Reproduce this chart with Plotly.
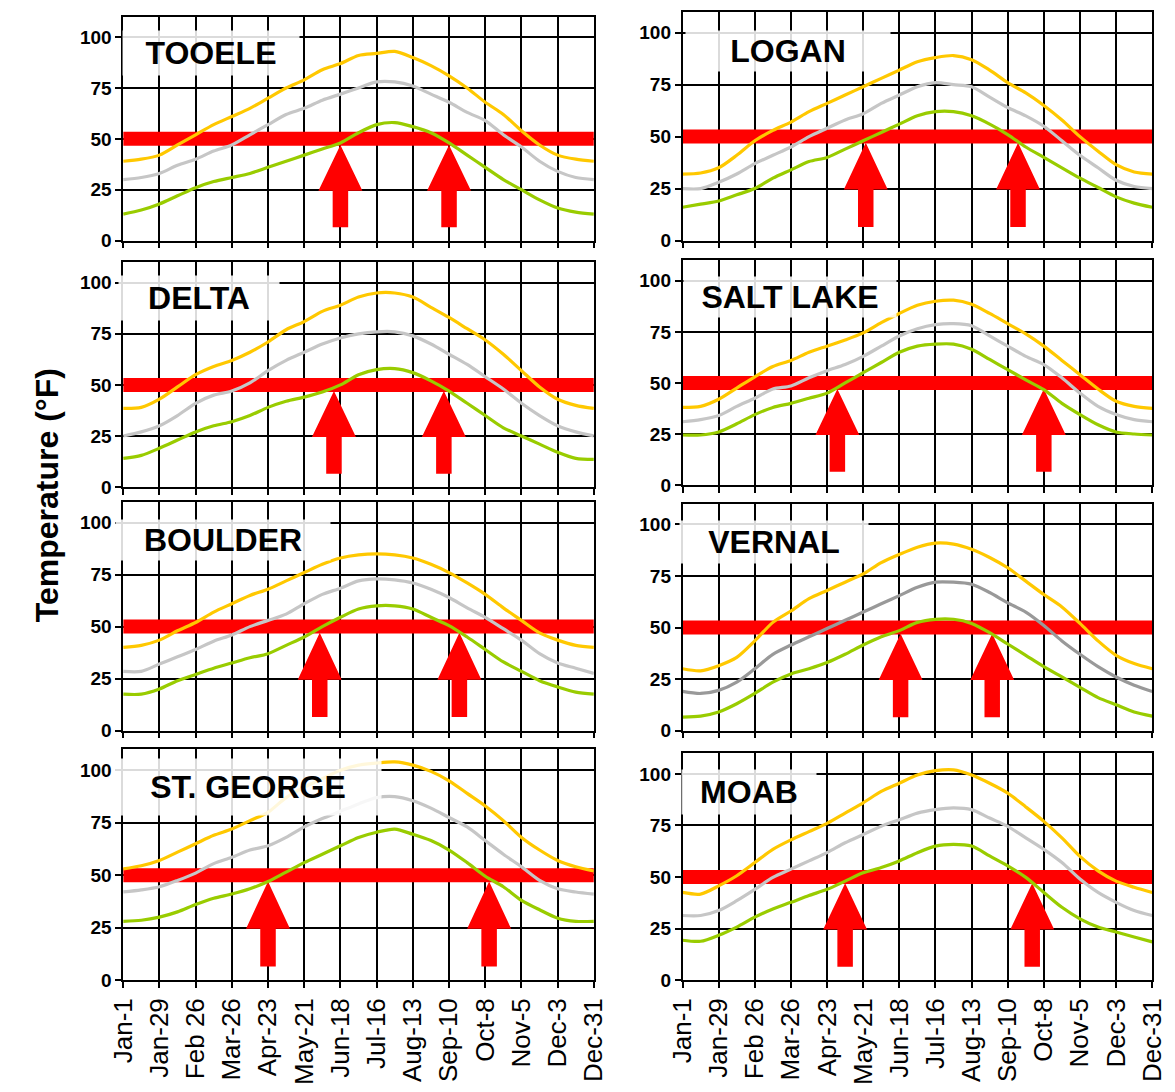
import plotly.graph_objects as go

# ---------------- data ----------------
sample_days = [1, 15, 29, 43, 57, 71, 85, 99, 113, 127, 141, 155, 169, 183,
               197, 211, 225, 239, 253, 267, 281, 295, 309, 323, 337, 351, 365]

tick_days = [1, 29, 57, 85, 113, 141, 169, 197, 225, 253, 281, 309, 337, 365]
tick_labels = ["Jan-1", "Jan-29", "Feb 26", "Mar-26", "Apr-23", "May-21", "Jun-18",
               "Jul-16", "Aug-13", "Sep-10", "Oct-8", "Nov-5", "Dec-3", "Dec-31"]
y_ticks = [0, 25, 50, 75, 100]
threshold = 50

stations = ["TOOELE", "LOGAN", "DELTA", "SALT LAKE", "BOULDER", "VERNAL", "ST. GEORGE", "MOAB"]

tooele_max = [39, 40, 42, 47, 52, 57, 61, 65, 70, 75, 79, 84, 87, 91, 92, 93, 90, 86, 81, 75, 68, 62, 54, 47, 42, 40, 39]
tooele_mean = [30, 31, 33, 37, 40, 44, 47, 52, 57, 62, 65, 69, 72, 75, 78, 78, 76, 72, 68, 63, 59, 52, 46, 39, 34, 31, 30]
tooele_min = [13, 15, 18, 22, 26, 29, 31, 33, 36, 39, 42, 45, 48, 53, 57, 58, 56, 53, 48, 42, 36, 30, 25, 20, 16, 14, 13]

logan_max = [32, 32.5, 35, 41, 48, 53, 57, 62, 66, 70, 74, 78, 82, 86, 88, 89, 87, 82, 76, 71, 65, 58, 50, 43, 36.5, 33, 32]
logan_mean = [25, 25, 28, 32, 37, 41, 45, 50, 54, 58, 61, 66, 70, 74, 76, 75, 74, 69, 64, 60, 55, 48, 41, 35, 29, 26, 25]
logan_min = [16, 17.5, 19, 22, 25, 30, 34, 38, 40, 44, 48, 52, 56, 60, 62, 62, 60, 56, 51, 45, 40, 35, 30, 25.5, 21, 18, 16]

delta_max = [38.5, 39, 43, 49, 55, 59, 62, 66, 71, 77, 81, 86, 89, 93, 95, 95, 93, 88, 83, 77.5, 72, 65, 57, 49, 43, 40, 38.5]
delta_mean = [25, 27, 30, 35, 41, 45, 47, 51, 57, 62, 66, 70, 73, 75, 76, 76, 74, 70, 65, 60, 54, 48, 41, 35, 30, 27, 25]
delta_min = [14, 15.5, 19, 23, 27, 30, 32, 35, 39, 42, 44, 46.5, 50, 55, 57.5, 58, 56, 52, 47, 41, 35, 29, 25, 21, 17, 14, 13.5]

saltlake_max = [38, 38.5, 42, 47.5, 53, 58, 61, 65, 68, 71, 74.5, 79.5, 84, 88, 90, 90.5, 88.5, 84, 79, 74, 68, 61, 54, 47, 41, 38.5, 37.5]
saltlake_mean = [31, 32, 34, 38.5, 42.5, 47, 48.5, 52.5, 56, 59, 63, 68, 73, 76.5, 78.5, 79, 78, 73, 68, 63, 59, 52.5, 45, 38.5, 34.5, 32, 31]
saltlake_min = [24.5, 24.5, 26, 30, 34.5, 38, 40, 42.5, 45, 50, 55, 60, 65, 68, 69, 69, 66.5, 61.5, 56.5, 51.5, 46.7, 40, 34.5, 29.5, 26, 25, 24.5]

boulder_max = [40, 41, 43.5, 48, 52, 57, 61, 65, 68, 72, 76, 80, 83, 84.5, 85, 84.5, 83, 80, 76, 71, 65.5, 59, 53, 47, 43.5, 41, 40]
boulder_mean = [28.5, 28.5, 32, 35.5, 39, 43, 46, 50, 53, 56, 61, 65.5, 68.5, 72, 73, 72.5, 71, 68, 64, 59, 54.5, 49, 43.5, 37, 32.5, 30, 27.5]
boulder_min = [17.5, 17.5, 20, 24, 27, 30, 32.5, 35, 37, 41, 45, 50, 54.5, 58.5, 60, 60, 58.5, 54.5, 50.5, 45, 39, 33, 28.5, 24, 21, 18.5, 17.5]

vernal_max = [30, 29, 31.5, 35.5, 43.5, 52.5, 58, 64, 68, 72, 76, 81.5, 85.5, 89, 91, 90.5, 88, 84, 79, 72.5, 66, 60, 52, 43.5, 36.5, 32.5, 30]
vernal_mean = [19, 18, 19.5, 23.5, 30, 37, 41.5, 45.5, 49.5, 53.5, 57.5, 61.5, 65.5, 69.5, 72, 72, 71, 67, 62, 57.5, 51, 43.5, 37, 31, 26, 22, 19]
vernal_min = [6.5, 7, 9, 13, 18, 23.5, 27.5, 30, 33, 37, 41.5, 45.5, 48.5, 52.5, 54, 54, 52, 47.5, 42, 36.5, 31, 26, 21, 16, 12.5, 9, 7]

stgeorge_max = [53, 54.5, 57, 61, 65, 69, 72, 76, 80, 87, 92, 96, 100, 102.5, 103.5, 104, 102.5, 99.5, 95, 89, 83, 76, 68, 62, 57, 54, 52]
stgeorge_mean = [42, 43, 44.5, 47.5, 51, 55.5, 58.5, 62, 64, 68, 73, 77, 80.5, 84, 87, 87.5, 85.5, 82, 77.5, 73, 66.5, 60, 54, 47.5, 43.5, 42, 41]
stgeorge_min = [28, 28.5, 30, 32.5, 36, 39, 41, 43.5, 47, 51.5, 56, 60, 64, 68, 70.5, 72, 69.5, 66.5, 62, 56, 49.5, 44.5, 38, 33.5, 29.5, 28, 28]

moab_max = [42.5, 41.7, 45.7, 50.6, 57, 63.4, 68, 72, 76, 81, 86, 91.5, 95.5, 99.5, 101.6, 102, 99.5, 95.5, 90.7, 84, 77, 69, 60, 53, 48, 45, 42.5]
moab_mean = [31.3, 31.3, 33.7, 38.5, 44, 49.8, 53.8, 57.8, 61.8, 66.6, 70.6, 74.6, 77.8, 81, 82.7, 83.5, 82.7, 78.6, 74.6, 69, 63.4, 57, 49, 42.5, 37.7, 33.7, 31.3]
moab_min = [19.3, 18.8, 21.7, 25.7, 30.5, 34.5, 37.7, 41, 44, 48, 52, 54.6, 57.8, 61.8, 65, 65.8, 65, 60.2, 55.4, 49.8, 42.5, 35.3, 29.7, 25.7, 23.3, 20.9, 18.5]

# day of year where the daily minimum reaches 50 F (arrow positions)
tooele_arrows = [169, 253]
logan_arrows = [143, 261]
delta_arrows = [164, 249]
saltlake_arrows = [121, 281]
boulder_arrows = [153, 261]
vernal_arrows = [170, 241]
stgeorge_arrows = [113, 284]
moab_arrows = [127, 272]

series = {
    "TOOELE": (tooele_max, tooele_mean, tooele_min, tooele_arrows),
    "LOGAN": (logan_max, logan_mean, logan_min, logan_arrows),
    "DELTA": (delta_max, delta_mean, delta_min, delta_arrows),
    "SALT LAKE": (saltlake_max, saltlake_mean, saltlake_min, saltlake_arrows),
    "BOULDER": (boulder_max, boulder_mean, boulder_min, boulder_arrows),
    "VERNAL": (vernal_max, vernal_mean, vernal_min, vernal_arrows),
    "ST. GEORGE": (stgeorge_max, stgeorge_mean, stgeorge_min, stgeorge_arrows),
    "MOAB": (moab_max, moab_mean, moab_min, moab_arrows),
}

# ---------------- layout geometry (page pixels) ----------------
W, H = 1175, 1092
col_x = [(110, 593), (684, 1166)]
row_y = [
    [(17, 243), (12, 243)],
    [(265, 492), (263, 490)],
    [(507, 738), (509, 738)],
    [(757, 990), (761, 990)],
]
# label box: (center px x, center y value, box width px, box height px)
label_box = {
    "TOOELE": (200, 92, 176, 44),
    "LOGAN": (792, 91, 204, 40),
    "DELTA": (188, 92.5, 160, 44),
    "SALT LAKE": (794, 92, 212, 40),
    "BOULDER": (212, 91.5, 214, 40),
    "VERNAL": (778, 91.5, 188, 42),
    "ST. GEORGE": (238, 92, 266, 56),
    "MOAB": (752, 91, 134, 44),
}

YELLOW = "#FFC800"
GRAY = "#C6C6C6"
GRAY_DARK = "#999999"
GREEN = "#99CC00"
RED = "#FF0000"
FONT = "Arial, Liberation Sans, sans-serif"

fig = go.Figure()
annotations = []
layout = {}

for i, name in enumerate(stations):
    r, c = divmod(i, 2)
    k = i + 1
    xa = "x" if k == 1 else f"x{k}"
    ya = "y" if k == 1 else f"y{k}"
    x0p, x1p = col_x[c]
    top, bot = row_y[r][c]
    bottom_row = r == 3
    vmax, vmean, vmin, arrows = series[name]

    layout["xaxis" if k == 1 else f"xaxis{k}"] = dict(
        domain=[x0p / W, x1p / W], range=[1, 365], anchor=ya,
        tickmode="array", tickvals=tick_days, ticktext=tick_labels,
        showticklabels=bottom_row, tickangle=-90,
        tickfont=dict(family=FONT, size=26, color="black"),
        showgrid=True, gridcolor="black", gridwidth=1.5,
        showline=True, linecolor="black", linewidth=1.5, mirror=True,
        ticks="outside", ticklen=6, tickwidth=1.5, tickcolor="black",
        zeroline=False, fixedrange=True,
    )
    layout["yaxis" if k == 1 else f"yaxis{k}"] = dict(
        domain=[1 - bot / H, 1 - top / H], range=[0, 110], anchor=xa,
        tickmode="array", tickvals=y_ticks,
        tickfont=dict(family=FONT, size=19, color="black", weight="bold"),
        showgrid=True, gridcolor="black", gridwidth=1.5,
        showline=True, linecolor="black", linewidth=1.5, mirror=True,
        ticks="outside", ticklen=6, tickwidth=1.5, tickcolor="black",
        zeroline=False, fixedrange=True,
    )

    # red 50 F band
    fig.add_trace(go.Scatter(
        x=[tick_days[0], tick_days[-1]], y=[threshold, threshold], mode="lines",
        xaxis=xa, yaxis=ya, line=dict(color=RED, width=14),
        showlegend=False, hoverinfo="skip", cliponaxis=False))
    # arrows pointing to the dates where the minimum reaches 50 F
    for d in arrows:
        ax = [d - 6, d + 6, d + 6, d + 17, d, d - 17, d - 6, d - 6]
        ay = [6.5, 6.5, 24.5, 24.5, threshold - 3, 24.5, 24.5, 6.5]
        fig.add_trace(go.Scatter(
            x=ax, y=ay, mode="lines", fill="toself", fillcolor=RED,
            line=dict(color=RED, width=0), xaxis=xa, yaxis=ya,
            showlegend=False, hoverinfo="skip"))

    gray = GRAY_DARK if name == "VERNAL" else GRAY
    for vals, col in ((vmin, GREEN), (vmean, gray), (vmax, YELLOW)):
        fig.add_trace(go.Scatter(
            x=sample_days, y=vals, mode="lines", xaxis=xa, yaxis=ya,
            line=dict(color=col, width=3.2, shape="spline", smoothing=0.8),
            showlegend=False, hoverinfo="skip"))

    cx, cy, bw, bh = label_box[name]
    annotations.append(dict(
        text=f"<b>{name}</b>", xref=f"{xa} domain", yref=ya,
        x=(cx - x0p) / (x1p - x0p), y=cy, xanchor="center", yanchor="middle",
        showarrow=False, width=bw, height=bh, borderpad=0,
        bgcolor="rgba(255,255,255,0.86)",
        font=dict(family=FONT, size=32, color="black")))

annotations.append(dict(
    text="<b>Temperature (°F)</b>", xref="paper", yref="paper",
    x=32 / W, y=1 - 500 / H, xanchor="center", yanchor="middle",
    textangle=-90, showarrow=False,
    font=dict(family=FONT, size=32, color="black")))

fig.update_layout(
    width=W, height=H, margin=dict(l=0, r=0, t=0, b=0),
    paper_bgcolor="white", plot_bgcolor="white",
    annotations=annotations, **layout)

fig.write_html(
    "out.html",
    config={"displayModeBar": False},
    post_script="document.body.style.margin='0';document.body.style.overflow='hidden';",
)
